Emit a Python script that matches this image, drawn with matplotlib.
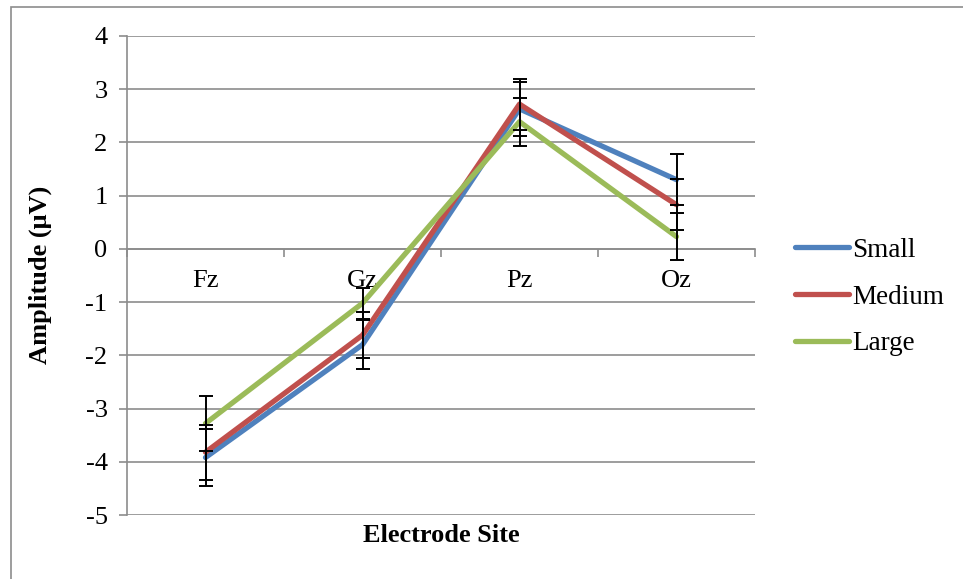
import matplotlib
matplotlib.use("Agg")
import matplotlib.pyplot as plt
from matplotlib.patches import Rectangle

# values
sites = ["Fz", "Gz", "Pz", "Oz"]
small = [-3.92, -1.80, 2.63, 1.30]
medium = [-3.82, -1.62, 2.72, 0.83]
large = [-3.28, -1.02, 2.39, 0.23]
small_err = [0.53, 0.46, 0.50, 0.48]
medium_err = [0.52, 0.43, 0.48, 0.48]
large_err = [0.52, 0.29, 0.45, 0.44]
yticks = [-5, -4, -3, -2, -1, 0, 1, 2, 3, 4]

plt.rcParams['font.family'] = ['Liberation Serif', 'DejaVu Serif']

fig = plt.figure(figsize=(9.63, 5.79), dpi=100)
ax = fig.add_axes([127 / 963, 1 - 515 / 579, (755 - 127) / 963, (515 - 36) / 579])

# outer chart border (runs off the right and bottom edges)
fig.patches.append(Rectangle((11 / 963, -0.1), 1.2, 1 - 7 / 579 + 0.1,
                             transform=fig.transFigure, fill=False,
                             edgecolor="#8c8c8c", linewidth=1.2))

x = list(range(len(sites)))
series = [("Small", small, small_err, "#4F81BD"),
          ("Medium", medium, medium_err, "#C0504D"),
          ("Large", large, large_err, "#9BBB59")]

for name, vals, err, col in series:
    ax.plot(x, vals, color=col, linewidth=3.8, label=name, zorder=3,
            solid_capstyle="round")
for name, vals, err, col in series:
    ax.errorbar(x, vals, yerr=err, fmt="none", ecolor="black",
                elinewidth=1.4, capsize=5, capthick=1.4, zorder=4)

ax.set_xlim(-0.5, 3.5)
ax.set_ylim(-5, 4)
ax.set_yticks(yticks)
ax.set_yticklabels([str(v) for v in yticks])
ax.yaxis.grid(True, color="#8c8c8c", linewidth=1.2)
ax.set_axisbelow(True)

for s in ["top", "right"]:
    ax.spines[s].set_visible(False)
ax.spines["left"].set_color("#8c8c8c")
ax.spines["left"].set_linewidth(1.2)
ax.spines["bottom"].set_position(("data", 0))
ax.spines["bottom"].set_color("#8c8c8c")
ax.spines["bottom"].set_linewidth(1.2)

# major ticks between categories, labels at centres
ax.set_xticks([-0.5, 0.5, 1.5, 2.5, 3.5])
ax.set_xticklabels([])
ax.set_xticks(x, minor=True)
ax.set_xticklabels(sites, minor=True)
ax.tick_params(axis="x", which="major", length=6, color="#8c8c8c", width=1.2)
ax.tick_params(axis="x", which="minor", length=0, pad=15, labelsize=19)
ax.tick_params(axis="y", length=6, color="#8c8c8c", width=1.2, labelsize=19, pad=8)

fig.text(40 / 963, 1 - 275 / 579, "Amplitude (μV)", rotation=90, ha="center",
         va="center", fontsize=19, fontweight="bold")
fig.text(441 / 963, 1 - 536 / 579, "Electrode Site", ha="center", va="center",
         fontsize=19, fontweight="bold")

fig.legend(loc="center left", bbox_to_anchor=(795 / 963, 1 - 297 / 579),
           frameon=False, fontsize=19.5, handlelength=2.0, handletextpad=0.1,
           labelspacing=0.8, borderpad=0, borderaxespad=0)

fig.savefig("out.png", dpi=100)
